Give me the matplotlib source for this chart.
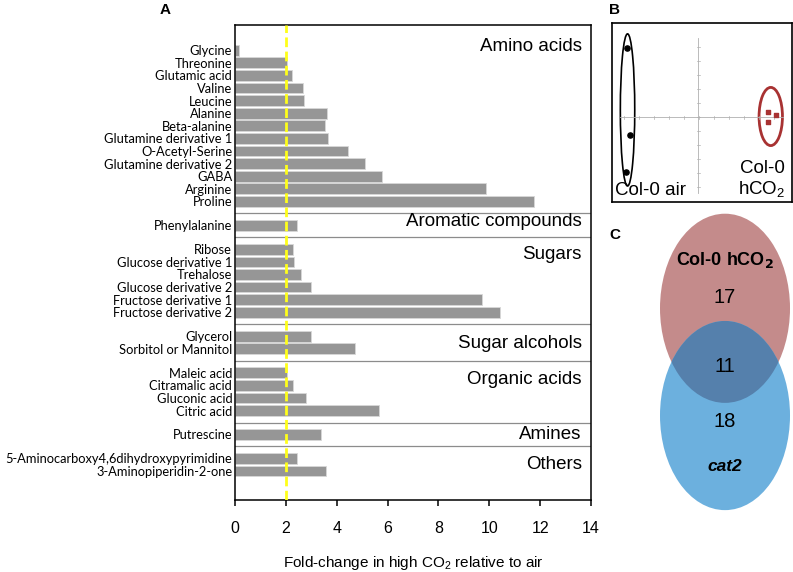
import numpy as np
import matplotlib
matplotlib.use("Agg")
import matplotlib.pyplot as plt
from matplotlib.patches import Ellipse

plt.rcParams['font.family'] = ['Liberation Sans', 'DejaVu Sans']
plt.rcParams['mathtext.default'] = 'regular'
ARIAL = ['Liberation Sans', 'DejaVu Sans']

# ---------------- data: panel A ----------------
amino_names = ["Glycine", "Threonine", "Glutamic acid", "Valine", "Leucine", "Alanine",
               "Beta-alanine", "Glutamine derivative 1", "O-Acetyl-Serine",
               "Glutamine derivative 2", "GABA", "Arginine", "Proline"]
amino_vals = [0.17, 2.06, 2.23, 2.66, 2.70, 3.63, 3.55, 3.64, 4.43, 5.13, 5.79, 9.87, 11.77]

arom_names = ["Phenylalanine"]
arom_vals = [2.44]

sugar_names = ["Ribose", "Glucose derivative 1", "Trehalose", "Glucose derivative 2",
               "Fructose derivative 1", "Fructose derivative 2"]
sugar_vals = [2.28, 2.33, 2.58, 2.98, 9.73, 10.43]

alcohol_names = ["Glycerol", "Sorbitol or Mannitol"]
alcohol_vals = [2.99, 4.71]

organic_names = ["Maleic acid", "Citramalic acid", "Gluconic acid", "Citric acid"]
organic_vals = [2.03, 2.29, 2.78, 5.68]

amine_names = ["Putrescine"]
amine_vals = [3.37]

other_names = ["5-Aminocarboxy4,6dihydroxypyrimidine", "3-Aminopiperidin-2-one"]
other_vals = [2.44, 3.59]

group_labels = ["Amino acids", "Aromatic compounds", "Sugars", "Sugar alcohols",
                "Organic acids", "Amines", "Others"]
threshold = 2
x_ticks = [0, 2, 4, 6, 8, 10, 12, 14]

# ---------------- data: panel B (PCA scores) ----------------
air_x = [-0.796, -0.759, -0.803]
air_y = [0.778, -0.199, -0.614]
hco2_x = [0.778, 0.860, 0.778]
hco2_y = [0.056, 0.026, -0.056]

# ---------------- data: panel C (Venn counts) ----------------
venn_only_hco2 = 17
venn_shared = 11
venn_only_cat2 = 18

# ---------------- figure ----------------
W, H = 793, 572
fig = plt.figure(figsize=(W / 100, H / 100), dpi=100)

def fx(px):
    return px / W

def fy(py):
    return 1 - py / H

# ---------- Panel A ----------
axA = fig.add_axes([fx(235), fy(500), fx(591) - fx(235), fy(25) - fy(500)])
groups = [
    (amino_names, amino_vals),
    (arom_names, arom_vals),
    (sugar_names, sugar_vals),
    (alcohol_names, alcohol_vals),
    (organic_names, organic_vals),
    (amine_names, amine_vals),
    (other_names, other_vals),
]
label_offsets = [-0.3, -0.3, 0.45, 0.55, 0.55, 0.0, 0.5]
gap = 1.9
start = 2.0
all_pos, all_names, all_vals = [], [], []
seps, label_pos = [], []
for gi, (names, vals) in enumerate(groups):
    pos = start + np.arange(len(names))
    all_pos.extend(pos)
    all_names.extend(names)
    all_vals.extend(vals)
    label_pos.append(pos[0] + label_offsets[gi])
    if gi < len(groups) - 1:
        seps.append(pos[-1] + gap / 2)
    start = pos[-1] + gap

axA.barh(all_pos, all_vals, height=0.85, color='#969696', edgecolor='#d8d8d8',
         linewidth=0.6, zorder=2)
for s in seps:
    axA.axhline(s, color='#8c8c8c', linewidth=0.9, zorder=1)
axA.axvline(threshold, color='#ffff1a', linewidth=2.0, linestyle=(0, (3.5, 1.6)), zorder=3)

axA.set_xlim(0, 14)
axA.set_ylim(37.7, 0)
axA.set_xticks(x_ticks)
axA.set_xticklabels([str(t) for t in x_ticks], fontsize=11.5, family=ARIAL)
axA.set_yticks(all_pos)
axA.set_yticklabels(all_names, fontsize=9.3, family=['Lato', 'DejaVu Sans'])
axA.tick_params(axis='y', length=0, pad=2)
axA.tick_params(axis='x', length=4, width=1.1, pad=11, direction='out')
for sp in axA.spines.values():
    sp.set_linewidth(1.1)
    sp.set_color('black')
for lbl, yp in zip(group_labels, label_pos):
    axA.text(0.974, yp, lbl, transform=axA.get_yaxis_transform(), ha='right',
             va='center', fontsize=13.5, family=ARIAL, zorder=4)
axA.set_xlabel("Fold-change in high CO$_2$ relative to air", fontsize=11, family=ARIAL,
               labelpad=13)

fig.text(fx(165), fy(10), "A", fontsize=11, fontweight='bold', ha='center', va='center', family=ARIAL)
fig.text(fx(615), fy(10), "B", fontsize=11, fontweight='bold', ha='center', va='center', family=ARIAL)
fig.text(fx(615), fy(235), "C", fontsize=11, fontweight='bold', ha='center', va='center', family=ARIAL)

# ---------- Panel B ----------
axB = fig.add_axes([fx(611.7), fy(202.3), fx(791.7) - fx(611.7), fy(23.3) - fy(202.3)])
axB.set_xlim(-0.962, 1.038)
axB.set_ylim(-0.95, 1.05)
axB.set_xticks([])
axB.set_yticks([])
for sp in axB.spines.values():
    sp.set_linewidth(1.2)
axB.plot([-0.87, 0.94], [0, 0], color='#b0b0b0', linewidth=0.6)
axB.plot([0, 0], [-0.846, 0.886], color='#b0b0b0', linewidth=0.6)
for t in np.arange(-0.83, 0.94, 0.167):
    axB.plot([t, t], [-0.015, 0.015], color='#b0b0b0', linewidth=0.5)
for t in np.arange(-0.78, 0.89, 0.156):
    axB.plot([-0.015, 0.015], [t, t], color='#b0b0b0', linewidth=0.5)
axB.scatter(air_x, air_y, s=14, color='black', marker='o', zorder=3)
axB.scatter(hco2_x, hco2_y, s=12, color='#a83232', marker='s', zorder=3)
axB.add_patch(Ellipse((np.mean(air_x), np.mean([max(air_y), min(air_y)])), 0.16, 1.70,
                      fill=False, edgecolor='black', linewidth=1.2))
axB.add_patch(Ellipse((np.mean(hco2_x), np.mean(hco2_y)), 0.26, 0.65,
                      fill=False, edgecolor='#a83232', linewidth=2.0))
axB.text(0.02, 0.02, "Col-0 air", transform=axB.transAxes, fontsize=13.5, ha='left',
         va='bottom', family=ARIAL)
axB.text(0.835, 0.02, "Col-0\nhCO$_2$", transform=axB.transAxes, fontsize=13.5,
         ha='center', va='bottom', linespacing=1.1, family=ARIAL)

# ---------- Panel C ----------
axC = fig.add_axes([fx(600), fy(515), fx(793) - fx(600), fy(210) - fy(515)])
axC.set_xlim(-1.923, 1.046)
axC.set_ylim(-2.355, 2.337)
axC.axis('off')
d = 0.825
ew, eh = 2.0, 2.91
red = Ellipse((0, d), ew, eh, facecolor='#c48b8b', edgecolor='none', zorder=1)
blue = Ellipse((0, -d), ew, eh, facecolor='#6cb0de', edgecolor='none', zorder=1)
axC.add_patch(red)
axC.add_patch(blue)
overlap = Ellipse((0, -d), ew, eh, facecolor='#5580ac', edgecolor='none', zorder=2)
axC.add_patch(overlap)
overlap.set_clip_path(red)
axC.text(0, 1.568, "Col-0 hCO$_\\mathbf{2}$", fontsize=13, fontweight='bold', ha='center',
         va='center', zorder=3, family=ARIAL)
axC.text(0, 0.998, str(venn_only_hco2), fontsize=14.5, ha='center', va='center', zorder=3, family=ARIAL)
axC.text(0, -0.074, str(venn_shared), fontsize=14.5, ha='center', va='center', zorder=3, family=ARIAL)
axC.text(0, -0.92, str(venn_only_cat2), fontsize=14.5, ha='center', va='center', zorder=3, family=ARIAL)
axC.text(0, -1.61, "cat2", fontsize=12.5, fontweight='bold', style='italic', ha='center',
         va='center', zorder=3, family=ARIAL)

fig.savefig("out.png", dpi=100)
